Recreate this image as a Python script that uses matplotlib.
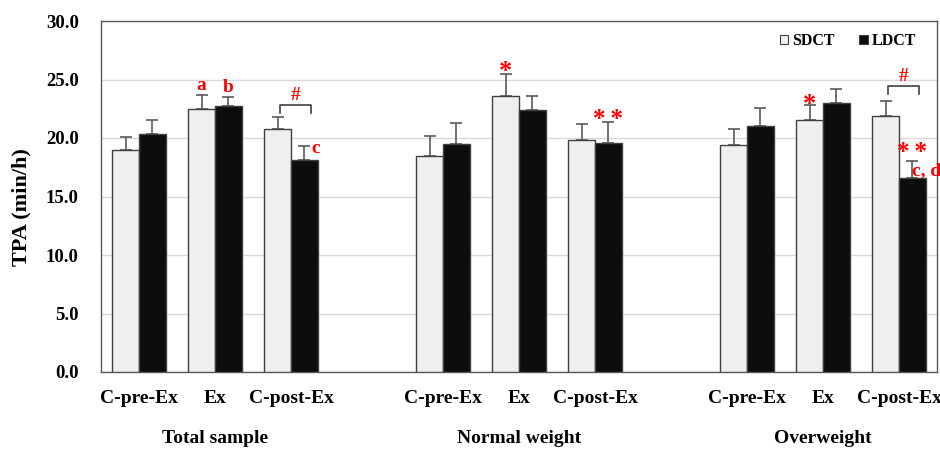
import matplotlib
matplotlib.use("Agg")
import matplotlib.pyplot as plt
from matplotlib.patches import Patch
import numpy as np

plt.rcParams['font.family'] = ['Liberation Serif', 'DejaVu Serif']
plt.rcParams['font.weight'] = 'bold'

# ---- data ----
groups = ["Total sample", "Normal weight", "Overweight"]
conditions = ["C-pre-Ex", "Ex", "C-post-Ex"]
series = ["SDCT", "LDCT"]

sdct_mean = [19.0, 22.5, 20.8, 18.5, 23.6, 19.8, 19.4, 21.5, 21.9]
sdct_err = [1.05, 1.2, 1.0, 1.7, 1.85, 1.4, 1.4, 1.3, 1.3]
ldct_mean = [20.3, 22.7, 18.1, 19.5, 22.4, 19.6, 21.0, 23.0, 16.6]
ldct_err = [1.2, 0.8, 1.2, 1.8, 1.15, 1.8, 1.6, 1.2, 1.4]

yticks = [0, 5, 10, 15, 20, 25, 30]

# ---- layout ----
fig = plt.figure(figsize=(9.4, 4.5), dpi=100)
ax = fig.add_axes([101/940, 78/450, 836/940, 351/450])

n_cond = len(conditions)
x = np.array([g * (n_cond + 1) + c for g in range(len(groups)) for c in range(n_cond)], dtype=float)
w = 0.35
xs = x - w/2
xl = x + w/2

edge = '#404040'
ecol = '#5a5a5a'
ax.bar(xs, sdct_mean, w, color='#efefef', edgecolor=edge, linewidth=1.0, zorder=3, label='SDCT')
ax.bar(xl, ldct_mean, w, color='#0d0d0d', edgecolor=edge, linewidth=1.0, zorder=3, label='LDCT')
zeros = np.zeros(len(x))
ax.errorbar(xs, sdct_mean, yerr=[zeros, sdct_err], fmt='none', ecolor=ecol, elinewidth=1.2,
            capsize=4, capthick=1.2, zorder=2)
ax.errorbar(xl, ldct_mean, yerr=[zeros, ldct_err], fmt='none', ecolor=ecol, elinewidth=1.2,
            capsize=4, capthick=1.2, zorder=2)

ax.set_xlim(-0.5, x[-1] + 0.5)
ax.set_ylim(0, 30)
ax.set_yticks(yticks)
ax.set_yticklabels([f"{v:.1f}" for v in yticks], fontsize=13.5, fontweight='bold')
ax.set_xticks(x)
ax.set_xticklabels(conditions * len(groups), fontsize=14, fontweight='bold')
ax.tick_params(axis='both', length=0)
ax.tick_params(axis='x', pad=13)
ax.tick_params(axis='y', pad=16)
ax.yaxis.grid(True, color='#d9d9d9', linewidth=1.0, zorder=0)
ax.set_axisbelow(True)
for s in ax.spines.values():
    s.set_color('#595959')
    s.set_linewidth(1.0)

ax.set_ylabel("TPA (min/h)", fontsize=16, fontweight='bold')
ax.yaxis.set_label_coords(-0.083, 0.47)

# group labels
for g, name in enumerate(groups):
    gx = g * (n_cond + 1) + 1
    ax.text(gx, -0.19, name, transform=ax.get_xaxis_transform(), ha='center', va='center',
            fontsize=14, fontweight='bold')

# legend
handles = [Patch(facecolor='#efefef', edgecolor='#404040', linewidth=0.8),
           Patch(facecolor='#0d0d0d', edgecolor='#404040', linewidth=0.8)]
ax.legend(handles, series, loc='center right', bbox_to_anchor=(0.975, 0.943), ncol=2,
          frameon=False, fontsize=11.5, handlelength=0.55, handleheight=0.55,
          handletextpad=0.25, columnspacing=1.5, borderpad=0, borderaxespad=0)

# significance annotations
red = '#ff0000'
s_top = np.array(sdct_mean) + np.array(sdct_err)
l_top = np.array(ldct_mean) + np.array(ldct_err)

def txt(xp, yp, t, size=14, ha='center', va='baseline'):
    ax.text(xp, yp, t, color=red, fontsize=size, fontweight='bold', ha=ha, va=va, zorder=5)

# Total sample
txt(xs[1], s_top[1] + 0.4, 'a')
txt(xl[1], l_top[1] + 0.45, 'b')
txt(xl[2] + 0.09, l_top[2] - 0.6, 'c', ha='left')
# Normal weight
txt(xs[4], s_top[4] + 0.2, '*', size=19, va='center')
txt(xl[5], l_top[5] + 0.15, '*\u2009*', size=18, va='center')
# Overweight
txt(xs[7], s_top[7] + 0.05, '*', size=19, va='center')
txt(xl[8], l_top[8] + 0.8, '*\u2009*', size=18, va='center')
txt(xl[8], l_top[8] - 0.8, 'c, d', ha='left', va='center')

# brackets with '#'
for i, top_off in [(2, 1.0), (8, 1.23)]:
    yb = s_top[i] + top_off
    x0, x1 = x[i] - 0.15, x[i] + 0.26
    ax.plot([x0, x0, x1, x1], [yb - 0.65, yb, yb, yb - 0.65], color='#404040', lw=1.2, zorder=4)
    txt((x0 + x1) / 2, yb + 0.45, '#')

fig.savefig("out.png", dpi=100)
